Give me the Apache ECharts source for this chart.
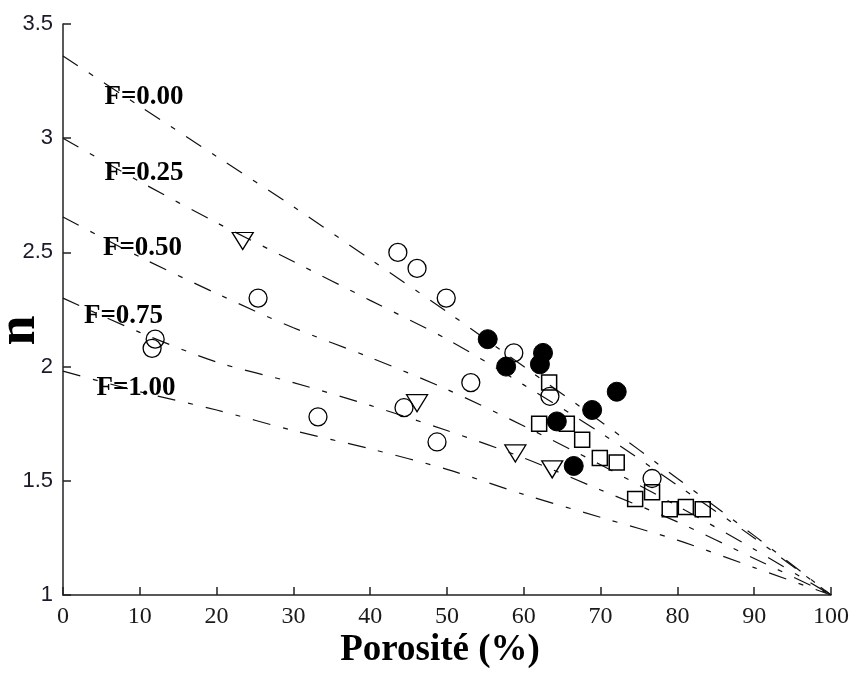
<!DOCTYPE html>
<html>
<head>
<meta charset="utf-8">
<script src="https://cdn.jsdelivr.net/npm/echarts@6/dist/echarts.min.js"></script>
<style>
html,body{margin:0;padding:0;background:#fff;}
#chart{width:856px;height:673px;}
</style>
</head>
<body>
<div id="chart"></div>
<script>
// Curve sample porosities (%)
var curveX = [0, 10, 20, 30, 40, 50, 60, 70, 80, 90, 100];
// n values along each F curve
var curveF000 = [3.36, 3.14, 2.92, 2.70, 2.47, 2.24, 2.00, 1.76, 1.51, 1.26, 1.00];
var curveF025 = [3.00, 2.81, 2.63, 2.46, 2.29, 2.12, 1.92, 1.71, 1.48, 1.25, 1.00];
var curveF050 = [2.655, 2.48, 2.32, 2.17, 2.04, 1.90, 1.74, 1.57, 1.39, 1.20, 1.00];
var curveF075 = [2.30, 2.15, 2.02, 1.93, 1.83, 1.72, 1.60, 1.46, 1.32, 1.16, 1.00];
var curveF100 = [1.98, 1.89, 1.81, 1.72, 1.64, 1.55, 1.44, 1.34, 1.24, 1.12, 1.00];

// Curve labels and their anchor points [porosity, n]
var curveLabels = ["F=0.00", "F=0.25", "F=0.50", "F=0.75", "F=1.00"];
var labelPos = [[10.55, 3.18], [10.55, 2.848], [10.35, 2.519], [7.88, 2.222], [9.5, 1.906]];

// Measured points [porosity, n]
var openCircles = [[43.6,2.50],[46.1,2.43],[49.9,2.30],[25.4,2.30],[12.0,2.12],[11.6,2.08],[53.1,1.93],[58.7,2.06],[63.4,1.87],[33.2,1.78],[44.4,1.82],[48.7,1.67],[76.7,1.51]];
var filledCircles = [[55.3,2.12],[57.7,2.00],[62.1,2.01],[62.5,2.06],[72.1,1.89],[68.9,1.81],[64.3,1.76],[66.5,1.565]];
var squares = [[63.3,1.93],[62.0,1.75],[65.6,1.75],[67.6,1.68],[69.9,1.60],[72.1,1.58],[74.5,1.42],[76.7,1.45],[79.0,1.375],[81.1,1.385],[83.3,1.375]];
var triangles = [[23.4,2.55],[46.1,1.84],[58.9,1.62],[63.7,1.55]];

var xTicks = {min: 0, max: 100, interval: 10};
var yTicks = {min: 1, max: 3.5, interval: 0.5};

function zip(xs, ys){ return xs.map(function(x,i){ return [x, ys[i]]; }); }

var curves = [curveF000, curveF025, curveF050, curveF075, curveF100];
var series = curves.map(function(c){
  return {
    type: 'line',
    data: zip(curveX, c),
    smooth: 0.3,
    showSymbol: false,
    silent: true,
    lineStyle: {color: '#111', width: 1.2, type: [18, 13, 5, 13], opacity: 1},
    z: 1
  };
});

series.push({
  type: 'scatter',
  data: curveLabels.map(function(t,i){ return {name: t, value: labelPos[i]}; }),
  symbolSize: 1,
  silent: true,
  itemStyle: {opacity: 0},
  label: {
    show: true, position: 'inside', formatter: '{b}', opacity: 1,
    fontFamily: 'Liberation Serif', fontWeight: 'bold', fontSize: 27, color: '#000'
  },
  z: 3
});

series.push({
  type: 'scatter', data: openCircles, symbol: 'circle', symbolSize: 18,
  itemStyle: {color: 'rgba(0,0,0,0)', borderColor: '#000', borderWidth: 1.3, opacity: 1}, z: 4
});
series.push({
  type: 'scatter', data: filledCircles, symbol: 'circle', symbolSize: 19,
  itemStyle: {color: '#000', borderColor: '#000', borderWidth: 1, opacity: 1}, z: 4
});
series.push({
  type: 'scatter', data: squares, symbol: 'rect', symbolSize: 15,
  itemStyle: {color: 'rgba(0,0,0,0)', borderColor: '#000', borderWidth: 1.5, opacity: 1}, z: 4
});
series.push({
  type: 'scatter', data: triangles, symbol: 'triangle', symbolSize: [21, 17], symbolRotate: 180,
  itemStyle: {color: 'rgba(0,0,0,0)', borderColor: '#000', borderWidth: 1.3, opacity: 1}, z: 4
});

var chart = echarts.init(document.getElementById('chart'), null, {renderer: 'canvas'});
chart.setOption({
  animation: false,
  backgroundColor: '#fff',
  grid: {left: 63, right: 25, top: 24, bottom: 78, containLabel: false, outerBoundsMode: 'none'},
  xAxis: {
    type: 'value', min: xTicks.min, max: xTicks.max, interval: xTicks.interval,
    name: 'Porosité (%)', nameLocation: 'middle', nameGap: 37, nameMoveOverlap: false,
    nameTextStyle: {fontFamily: 'Liberation Serif', fontWeight: 'bold', fontSize: 37, color: '#000', padding: [0, 14, 0, 0]},
    axisLine: {lineStyle: {color: '#222', width: 1.5}},
    axisTick: {inside: true, length: 8, lineStyle: {color: '#222', width: 1.5}},
    axisLabel: {fontFamily: 'Liberation Serif', fontSize: 24, color: '#1a1a1a', margin: 10},
    splitLine: {show: false}
  },
  yAxis: {
    type: 'value', min: yTicks.min, max: yTicks.max, interval: yTicks.interval,
    name: 'n', nameLocation: 'middle', nameGap: 16, nameMoveOverlap: false,
    nameTextStyle: {fontFamily: 'Liberation Serif', fontWeight: 'bold', fontSize: 54, color: '#000', padding: [0, 42, 0, 0]},
    axisLine: {lineStyle: {color: '#222', width: 1.5}},
    axisTick: {inside: true, length: 8, lineStyle: {color: '#222', width: 1.5}},
    axisLabel: {fontFamily: 'Liberation Sans', fontSize: 22, color: '#1a1a2a', margin: 10},
    splitLine: {show: false}
  },
  series: series
});
</script>
</body>
</html>
